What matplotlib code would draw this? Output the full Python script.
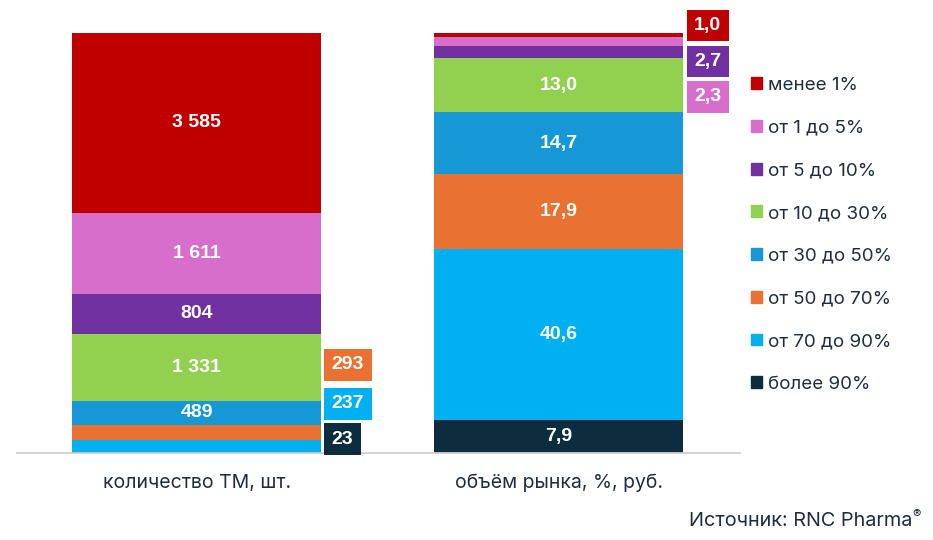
import numpy as np
import matplotlib.pyplot as plt
from matplotlib.patches import Patch

categories = ["количество ТМ, шт.", "объём рынка, %, руб."]
groups = ["более 90%", "от 70 до 90%", "от 50 до 70%", "от 30 до 50%",
          "от 10 до 30%", "от 5 до 10%", "от 1 до 5%", "менее 1%"]
colors = ["#0d2d3f", "#00b0f0", "#e97132", "#1598d5",
          "#92d050", "#7030a0", "#d86ecc", "#c00000"]

tm_count = [23, 237, 293, 489, 1331, 804, 1611, 3585]
market_share = [7.9, 40.6, 17.9, 14.7, 13.0, 2.7, 2.3, 1.0]

# which segments get their label outside the bar, and at what height (data units)
tm_outside = {2: 21.0, 1: 11.7, 0: 3.3}
share_outside = {7: 101.8, 5: 93.2, 6: 84.8}

text_col = "#1f2d3d"
plt.rcParams['font.family'] = ['Inter', 'DejaVu Sans']

fig = plt.figure(figsize=(9.33, 5.4), dpi=100)
ax = fig.add_axes([17 / 933, 87 / 540, 723 / 933, 420 / 540])

tm_pct = np.array(tm_count) / sum(tm_count) * 100
share = np.array(market_share)
width = 0.688

def fmt_int(v):
    return f"{v:,}".replace(",", "\u00a0")

def fmt_dec(v):
    return f"{v:.1f}".replace(".", ",")

for x, heights, raw, fmt, outside in [
        (0, tm_pct, tm_count, fmt_int, tm_outside),
        (1, share, market_share, fmt_dec, share_outside)]:
    bottom = 0
    for i, h in enumerate(heights):
        ax.bar(x, h, width, bottom=bottom, color=colors[i], linewidth=0)
        label = fmt(raw[i])
        if i in outside:
            ax.text(x + width / 2 + 0.029, outside[i], label, ha='left', va='center',
                    color='white', fontsize=14, fontweight='bold',
                    family=['Liberation Sans'], clip_on=False,
                    bbox=dict(boxstyle='square,pad=0.38', fc=colors[i], ec='none'))
        else:
            ax.text(x, bottom + h / 2, label, ha='center', va='center',
                    color='white', fontsize=14, fontweight='bold',
                    family=['Liberation Sans'])
        bottom += h

ax.set_xlim(-0.496, 1.5)
ax.set_ylim(0, 100)
ax.set_xticks([0, 1])
ax.set_xticklabels(categories, fontsize=14, color=text_col)
ax.tick_params(axis='x', length=0, pad=15)
ax.set_yticks([])
for s in ['top', 'right', 'left']:
    ax.spines[s].set_visible(False)
ax.spines['bottom'].set_color('#d0d0d0')
ax.spines['bottom'].set_linewidth(1.3)

handles = [Patch(color=c, label=g) for c, g in zip(colors, groups)][::-1]
fig.legend(handles=handles, loc='center left', bbox_to_anchor=(751 / 933, 0.565),
           frameon=False, handlelength=0.6, handleheight=0.6, handletextpad=0.3,
           borderpad=0, borderaxespad=0, labelspacing=1.37, fontsize=13.5,
           labelcolor=text_col)

# source line, registered sign as a small superscript
fig.text(0.978, 0.035, "Источник: RNC Pharma", ha='right', va='center',
         fontsize=14.3, color=text_col)
fig.text(0.978, 0.046, "®", ha='left', va='center', fontsize=9, color=text_col)

fig.savefig("out.png", dpi=100)
